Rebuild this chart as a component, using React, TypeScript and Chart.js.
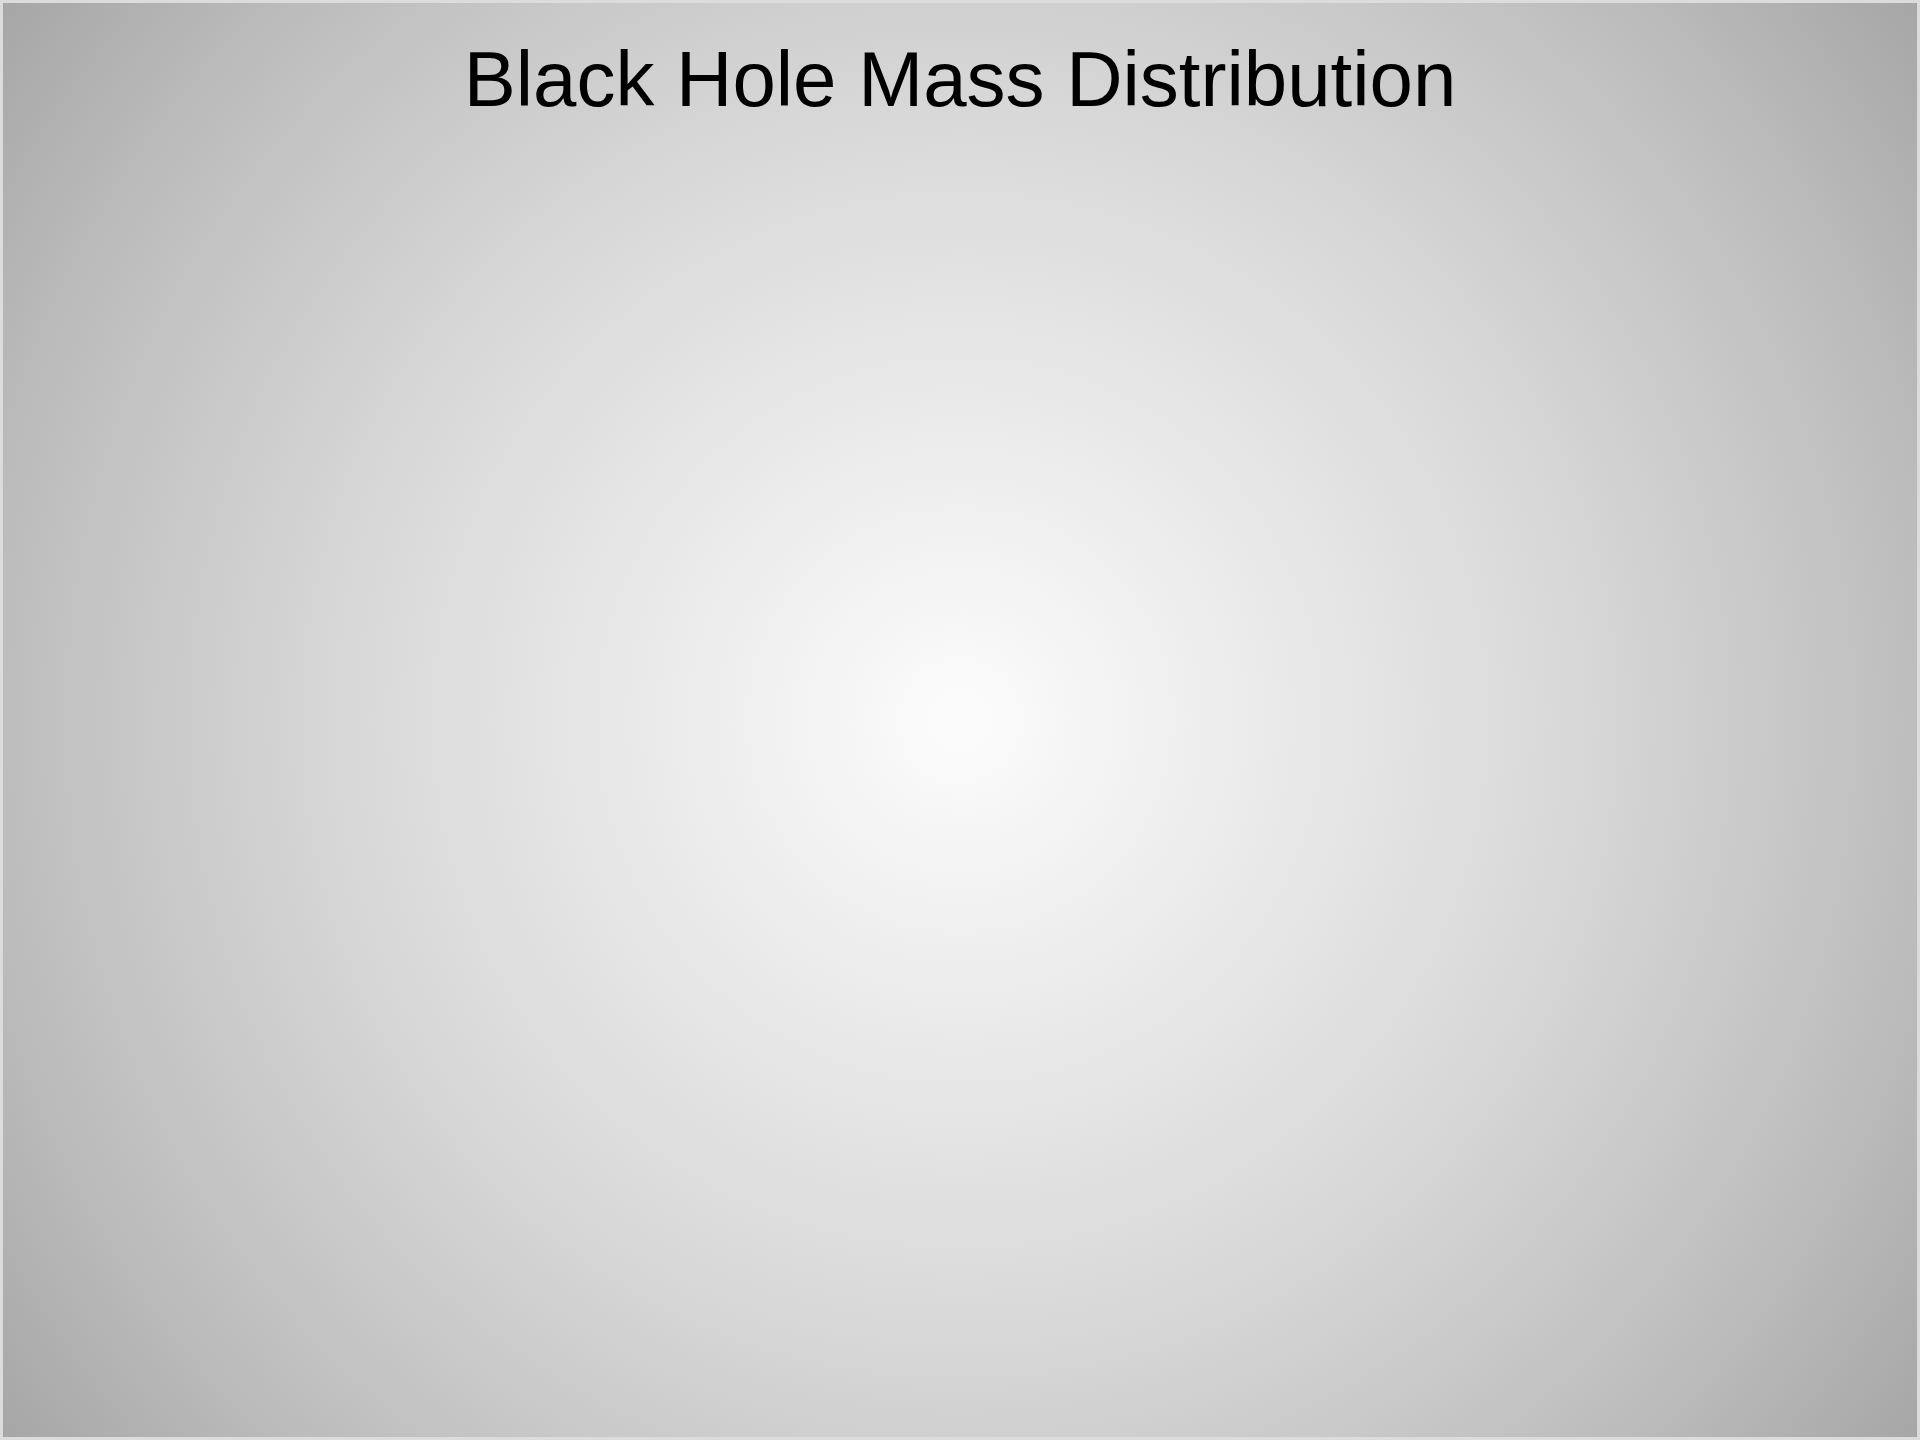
import React, { useEffect, useRef } from "react";
import { Chart, registerables } from "chart.js";

Chart.register(...registerables);

// The reference shows only the title over an empty plot: no marks are visible.
const chartTitle = "Black Hole Mass Distribution";
const massBins: string[] = [];
const counts: number[] = [];

const backgroundPlugin = {
  id: "radialBackground",
  beforeDraw(chart: any) {
    const { ctx, width, height } = chart;
    const cx = width / 2;
    const cy = height / 2;
    const r = Math.sqrt(cx * cx + cy * cy);
    ctx.save();
    const g = ctx.createRadialGradient(cx, cy, 0, cx, cy, r);
    g.addColorStop(0, "#fcfcfc");
    g.addColorStop(0.5, "#d9d9d9");
    g.addColorStop(0.8, "#bdbdbd");
    g.addColorStop(1, "#a6a6a6");
    ctx.fillStyle = g;
    ctx.fillRect(0, 0, width, height);
    ctx.strokeStyle = "#dcdcdc";
    ctx.lineWidth = 3;
    ctx.strokeRect(1.5, 1.5, width - 3, height - 3);
    ctx.restore();
  },
};

export default function App() {
  const ref = useRef<HTMLCanvasElement | null>(null);

  useEffect(() => {
    if (!ref.current) return;
    const chart = new Chart(ref.current, {
      type: "bar",
      data: {
        labels: massBins,
        datasets: [
          {
            label: "Count",
            data: counts,
            backgroundColor: "#4472c4",
          },
        ],
      },
      options: {
        animation: false,
        responsive: true,
        maintainAspectRatio: false,
        layout: { padding: 0 },
        plugins: {
          legend: { display: false },
          tooltip: { enabled: false },
          title: {
            display: true,
            text: chartTitle,
            color: "#000000",
            font: { family: "'Liberation Sans', Arial, sans-serif", size: 78, weight: "normal" },
            padding: { top: 38, bottom: 0 },
          },
        },
        scales: {
          x: { display: false },
          y: { display: false },
        },
      },
      plugins: [backgroundPlugin],
    });
    return () => chart.destroy();
  }, []);

  return (
    <div style={{ position: "absolute", left: 0, top: 0, width: 1920, height: 1440 }}>
      <canvas ref={ref} />
    </div>
  );
}
